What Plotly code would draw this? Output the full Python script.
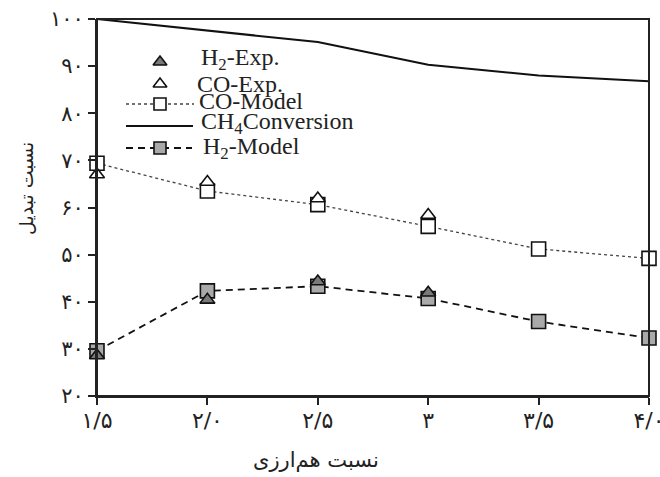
import plotly.graph_objects as go

# ---- data ----
ratio = [1.5, 2.0, 2.5, 3.0, 3.5, 4.0]
ratio_labels = ["۱/۵", "۲/۰", "۲/۵", "۳", "۳/۵", "۴/۰"]
exp_ratio = [1.5, 2.0, 2.5, 3.0]

h2_exp = [28.6, 40.4, 44.3, 41.9]
co_exp = [67.0, 65.4, 61.9, 58.4]
co_model = [69.4, 63.5, 60.6, 56.0, 51.2, 49.2]
ch4_conv = [100.0, 97.5, 95.1, 90.3, 88.0, 86.8]
h2_model = [29.6, 42.3, 43.3, 40.7, 35.8, 32.3]

y_ticks = [20, 30, 40, 50, 60, 70, 80, 90, 100]
y_labels = ["۲۰", "۳۰", "۴۰", "۵۰", "۶۰", "۷۰", "۸۰", "۹۰", "۱۰۰"]

legend_names = ["H<sub>2</sub>-Exp.", "CO-Exp.", "CO-Model", "CH<sub>4</sub>Conversion", "H<sub>2</sub>-Model"]

x_title = "نسبت هم‌ارزی"
y_title = "نسبت تبدیل"

W, H = 660, 477
PL, PR, PT, PB = 97, 649, 19, 396  # plot box in page pixels


def px(x):
    return (x - PL) / (PR - PL)


def py(y):
    return (PB - y) / (PB - PT)


fig = go.Figure()

fig.add_trace(go.Scatter(
    x=ratio, y=ch4_conv, mode="lines",
    line=dict(color="#111", width=2), cliponaxis=False, showlegend=False))
fig.add_trace(go.Scatter(
    x=ratio, y=co_model, mode="lines+markers",
    line=dict(color="#444", width=1.3, dash="3px,3px"),
    marker=dict(symbol="square", size=14, color="white", line=dict(color="#111", width=1.6)),
    cliponaxis=False, showlegend=False))
fig.add_trace(go.Scatter(
    x=ratio, y=h2_model, mode="lines+markers",
    line=dict(color="#111", width=1.8, dash="7px,5px"),
    marker=dict(symbol="square", size=14, color="#a9a9a9", line=dict(color="#111", width=1.6)),
    cliponaxis=False, showlegend=False))
fig.add_trace(go.Scatter(
    x=exp_ratio, y=co_exp, mode="markers",
    marker=dict(symbol="triangle-up", size=13, color="white", line=dict(color="#111", width=1.6)),
    cliponaxis=False, showlegend=False))
fig.add_trace(go.Scatter(
    x=exp_ratio, y=h2_exp, mode="markers",
    marker=dict(symbol="triangle-up", size=13, color="#7a7a7a", line=dict(color="#111", width=1.6)),
    cliponaxis=False, showlegend=False))

# ---- custom legend on a hidden axis pair covering the plot box (page-pixel units) ----
L = dict(xaxis="x2", yaxis="y2", showlegend=False, hoverinfo="skip", cliponaxis=False)
fig.add_trace(go.Scatter(x=[160], y=[62], mode="markers",
    marker=dict(symbol="triangle-up", size=12, color="#7a7a7a", line=dict(color="#111", width=1.6)), **L))
fig.add_trace(go.Scatter(x=[160], y=[84], mode="markers",
    marker=dict(symbol="triangle-up", size=12, color="white", line=dict(color="#111", width=1.6)), **L))
fig.add_trace(go.Scatter(x=[126, 160, 194], y=[104, 104, 104], mode="lines",
    line=dict(color="#444", width=1.3, dash="3px,3px"), **L))
fig.add_trace(go.Scatter(x=[160], y=[104], mode="markers",
    marker=dict(symbol="square", size=12, color="white", line=dict(color="#111", width=1.6)), **L))
fig.add_trace(go.Scatter(x=[126, 193], y=[126, 126], mode="lines",
    line=dict(color="#111", width=2), **L))
fig.add_trace(go.Scatter(x=[126, 160, 192], y=[148, 148, 148], mode="lines",
    line=dict(color="#111", width=1.8, dash="7px,5px"), **L))
fig.add_trace(go.Scatter(x=[160], y=[148], mode="markers",
    marker=dict(symbol="square", size=12, color="#a9a9a9", line=dict(color="#111", width=1.6)), **L))

leg_pos = [(199, 59), (195, 84), (197, 101), (199, 123), (201, 148)]
ann = []
for (lx, ly), name in zip(leg_pos, legend_names):
    ann.append(dict(x=px(lx), y=py(ly), xref="paper", yref="paper", text=name, showarrow=False,
                    xanchor="left", yanchor="middle",
                    font=dict(family="Liberation Serif", size=24, color="#222")))

ann.append(dict(x=px(316), y=py(460), xref="paper", yref="paper", text=x_title, showarrow=False,
                xanchor="center", yanchor="middle",
                font=dict(family="DejaVu Sans, sans-serif", size=21, color="#222")))
ann.append(dict(x=px(26), y=py(189), xref="paper", yref="paper", text=y_title, showarrow=False,
                textangle=-90, xanchor="center", yanchor="middle",
                font=dict(family="DejaVu Sans, sans-serif", size=19, color="#222")))

axis_common = dict(showgrid=False, zeroline=False, showline=True, linecolor="#222",
                   linewidth=2, mirror=False, ticks="outside", ticklen=7, tickwidth=1.5,
                   tickcolor="#222", automargin=False, ticklabeloverflow="allow")

fig.update_layout(
    template="none",
    width=W, height=H,
    margin=dict(l=PL, r=W - PR, t=PT, b=H - PB),
    paper_bgcolor="white", plot_bgcolor="white",
    xaxis=dict(range=[1.5, 4.0], tickvals=ratio, ticktext=ratio_labels, ticklabelstandoff=-3,
               tickfont=dict(family="DejaVu Sans", size=22, color="#222"), **axis_common),
    yaxis=dict(range=[20, 100], tickvals=y_ticks, ticktext=y_labels,
               tickfont=dict(family="DejaVu Sans", size=21, color="#222"), **axis_common),
    xaxis2=dict(range=[PL, PR], overlaying="x", visible=False, fixedrange=True),
    yaxis2=dict(range=[PB, PT], overlaying="y", visible=False, fixedrange=True),
    shapes=[dict(type="rect", xref="paper", yref="paper", x0=0, x1=1, y0=0, y1=1,
                 line=dict(color="#222", width=2), layer="above")],
    annotations=ann,
    showlegend=False,
)

# remove the default 8px page margin so the figure sits at the window origin
fig.write_html(
    "out.html",
    config={"displayModeBar": False},
    post_script="document.body.style.margin='0px';"
                "document.documentElement.style.overflow='hidden';",
)
